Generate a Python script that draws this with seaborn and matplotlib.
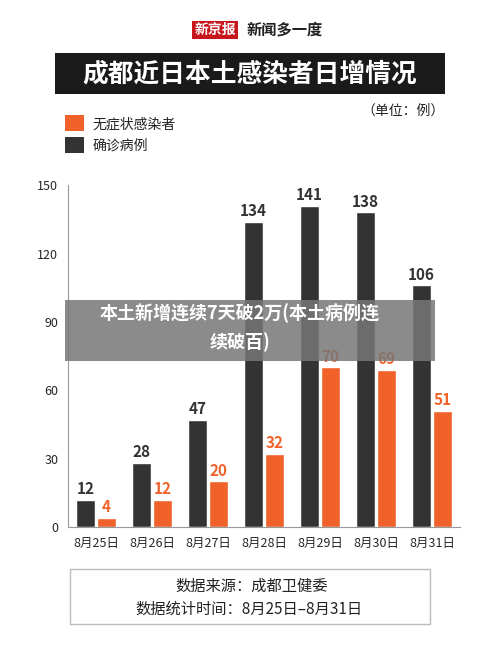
import numpy as np
import pandas as pd
import matplotlib.pyplot as plt
import seaborn as sns
from matplotlib.patches import Rectangle

sns.set_style('white')
plt.rcParams['font.family'] = ['Noto Sans CJK SC', 'DejaVu Sans']

dates = ['8月25日', '8月26日', '8月27日', '8月28日', '8月29日', '8月30日', '8月31日']
confirmed = [12, 28, 47, 134, 141, 138, 106]
asymptomatic = [4, 12, 20, 32, 70, 69, 51]
series = ['确诊病例', '无症状感染者']
colors = {'确诊病例': '#333333', '无症状感染者': '#f0622a'}

df = pd.DataFrame({
    'date': dates * 2,
    'value': confirmed + asymptomatic,
    'kind': [series[0]] * len(dates) + [series[1]] * len(dates),
})

fig = plt.figure(figsize=(5, 6.6), dpi=100)
ax = fig.add_axes([0.136, 0.2015, 0.784, 0.518])
sns.barplot(data=df, x='date', y='value', hue='kind', palette=colors,
            saturation=1, width=0.75, gap=0.1, ax=ax, legend=False)
for cont, kind in zip(ax.containers, series):
    ax.bar_label(cont, padding=2, fontsize=11, color=colors[kind],
                 fontweight='bold')
ax.set_ylim(0, 150)
ax.set_yticks(range(0, 151, 30))
ax.set_xlabel('')
ax.set_ylabel('')
ax.tick_params(labelsize=9)
for s in ['top', 'right']:
    ax.spines[s].set_visible(False)
ax.spines['left'].set_color('#999999')
ax.spines['bottom'].set_color('#999999')

# header
fig.text(0.43, 0.955, '新京报', ha='center', va='center', fontsize=10,
         color='white', fontweight='bold',
         bbox=dict(facecolor='#c8161d', edgecolor='none', pad=1.5))
fig.text(0.57, 0.955, '新闻多一度', ha='center', va='center', fontsize=11,
         fontweight='bold', style='italic', color='#222222')
fig.patches.append(Rectangle((0.11, 0.857), 0.78, 0.062, transform=fig.transFigure,
                             facecolor='#1a1a1a', edgecolor='none'))
fig.text(0.5, 0.888, '成都近日本土感染者日增情况', ha='center', va='center',
         fontsize=18.5, color='white', fontweight='bold')

# legend
for y, kind in [(0.812, series[1]), (0.779, series[0])]:
    fig.patches.append(Rectangle((0.13, y - 0.011), 0.038, 0.024,
                                 transform=fig.transFigure,
                                 facecolor=colors[kind], edgecolor='none'))
    fig.text(0.185, y, kind, va='center', fontsize=10, color='#222222')
fig.text(0.89, 0.832, '（单位：例）', ha='right', va='center', fontsize=10,
         color='#222222')

# overlay banner
fig.patches.append(Rectangle((0.13, 0.453), 0.74, 0.092, transform=fig.transFigure,
                             facecolor='#777777', alpha=0.85, edgecolor='none'))
fig.text(0.48, 0.525, '本土新增连续7天破2万(本土病例连', ha='center', va='center',
         fontsize=13, color='white', fontweight='bold')
fig.text(0.48, 0.482, '续破百)', ha='center', va='center',
         fontsize=13, color='white', fontweight='bold')

# source box
fig.patches.append(Rectangle((0.14, 0.055), 0.72, 0.083, transform=fig.transFigure,
                             facecolor='white', edgecolor='#bbbbbb', lw=1))
fig.text(0.35, 0.111, '数据来源：成都卫健委', va='center', fontsize=11,
         color='#222222')
fig.text(0.27, 0.077, '数据统计时间：8月25日–8月31日', va='center', fontsize=11,
         color='#222222')

fig.savefig('out.png', dpi=100)
